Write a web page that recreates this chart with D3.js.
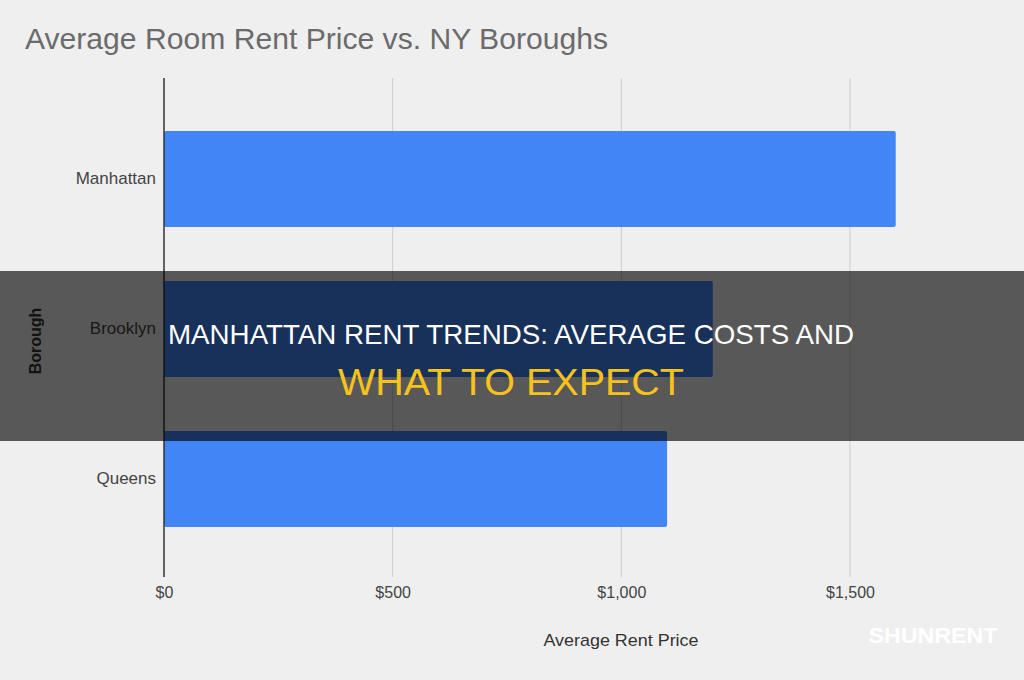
<html>
  <head>
    <meta charset="utf-8">
    <script src="https://d3js.org/d3.v7.min.js"></script>
    <style>
      body { margin: 0; background: #efefef; }
      svg { display: block; }
    </style>
  </head>
  <body>
    <svg id="chart" width="1024" height="680"></svg>
    <script>
      // data
      var boroughs = ["Manhattan", "Brooklyn", "Queens"];
      var rents = [1600, 1200, 1100];
      var tickValues = [0, 500, 1000, 1500];

      var W = 1024, H = 680;
      var font = '"Liberation Sans", Arial, sans-serif';
      var svg = d3.select("#chart");

      svg.append("rect").attr("width", W).attr("height", H).attr("fill", "#efefef");

      var x = d3.scaleLinear().domain([0, 1500]).range([164, 850]);
      var y = d3.scaleBand().domain(boroughs).range([104, 554])
        .paddingInner(0.36).paddingOuter(0.18);

      // title
      svg.append("text")
        .attr("x", 25).attr("y", 49)
        .attr("font-family", font).attr("font-size", 29)
        .attr("textLength", 583).attr("lengthAdjust", "spacingAndGlyphs")
        .attr("fill", "#6b6b6b")
        .text("Average Room Rent Price vs. NY Boroughs");

      // grid lines
      svg.append("g").selectAll("line")
        .data(tickValues.slice(1))
        .join("line")
        .attr("x1", function(d) { return x(d); })
        .attr("x2", function(d) { return x(d); })
        .attr("y1", 78).attr("y2", 577)
        .attr("stroke", "#cccccc").attr("stroke-width", 1);

      // bars
      svg.append("g").selectAll("rect")
        .data(boroughs)
        .join("rect")
        .attr("x", x(0))
        .attr("y", function(d) { return y(d); })
        .attr("width", function(d, i) { return x(rents[i]) - x(0); })
        .attr("height", y.bandwidth())
        .attr("rx", 2)
        .attr("fill", "#4285f4");

      // zero line
      svg.append("line")
        .attr("x1", x(0)).attr("x2", x(0))
        .attr("y1", 78).attr("y2", 577)
        .attr("stroke", "#333333").attr("stroke-width", 1.5);

      // x axis labels
      var xAxis = d3.axisBottom(x)
        .tickValues(tickValues)
        .tickSize(0)
        .tickPadding(0)
        .tickFormat(function(d) { return "$" + d3.format(",")(d); });
      var gx = svg.append("g").attr("transform", "translate(0,587)").call(xAxis);
      gx.select(".domain").remove();
      gx.selectAll("text")
        .attr("font-family", font).attr("font-size", 16)
        .attr("fill", "#444444");

      // y axis labels
      var yAxis = d3.axisLeft(y).tickSize(0).tickPadding(8);
      var gy = svg.append("g").attr("transform", "translate(164,0)").call(yAxis);
      gy.select(".domain").remove();
      gy.selectAll("text")
        .attr("font-family", font).attr("font-size", 17)
        .attr("fill", "#444444");

      // axis titles
      svg.append("text")
        .attr("x", 621).attr("y", 646)
        .attr("text-anchor", "middle")
        .attr("font-family", font).attr("font-size", 17)
        .attr("textLength", 155).attr("lengthAdjust", "spacingAndGlyphs")
        .attr("fill", "#333333")
        .text("Average Rent Price");

      svg.append("text")
        .attr("transform", "translate(41,341) rotate(-90)")
        .attr("text-anchor", "middle")
        .attr("font-family", font).attr("font-size", 16)
        .attr("font-weight", "bold")
        .attr("fill", "#333333")
        .text("Borough");

      // dark banner over the middle
      svg.append("rect")
        .attr("x", 0).attr("y", 271).attr("width", W).attr("height", 170)
        .attr("fill", "#000").attr("fill-opacity", 0.63);

      svg.append("text")
        .attr("x", 511).attr("y", 344)
        .attr("text-anchor", "middle")
        .attr("font-family", font).attr("font-size", 28)
        .attr("textLength", 686).attr("lengthAdjust", "spacingAndGlyphs")
        .attr("fill", "#ffffff")
        .text("MANHATTAN RENT TRENDS: AVERAGE COSTS AND");

      svg.append("text")
        .attr("x", 511).attr("y", 395)
        .attr("text-anchor", "middle")
        .attr("font-family", font).attr("font-size", 36)
        .attr("textLength", 346).attr("lengthAdjust", "spacingAndGlyphs")
        .attr("fill", "#f6c21c")
        .text("WHAT TO EXPECT");

      // watermark
      svg.append("text")
        .attr("x", 933).attr("y", 643)
        .attr("text-anchor", "middle")
        .attr("font-family", font).attr("font-size", 22)
        .attr("font-weight", "bold")
        .attr("textLength", 129).attr("lengthAdjust", "spacingAndGlyphs")
        .attr("fill", "#ffffff")
        .text("SHUNRENT");
    </script>
  </body>
</html>
